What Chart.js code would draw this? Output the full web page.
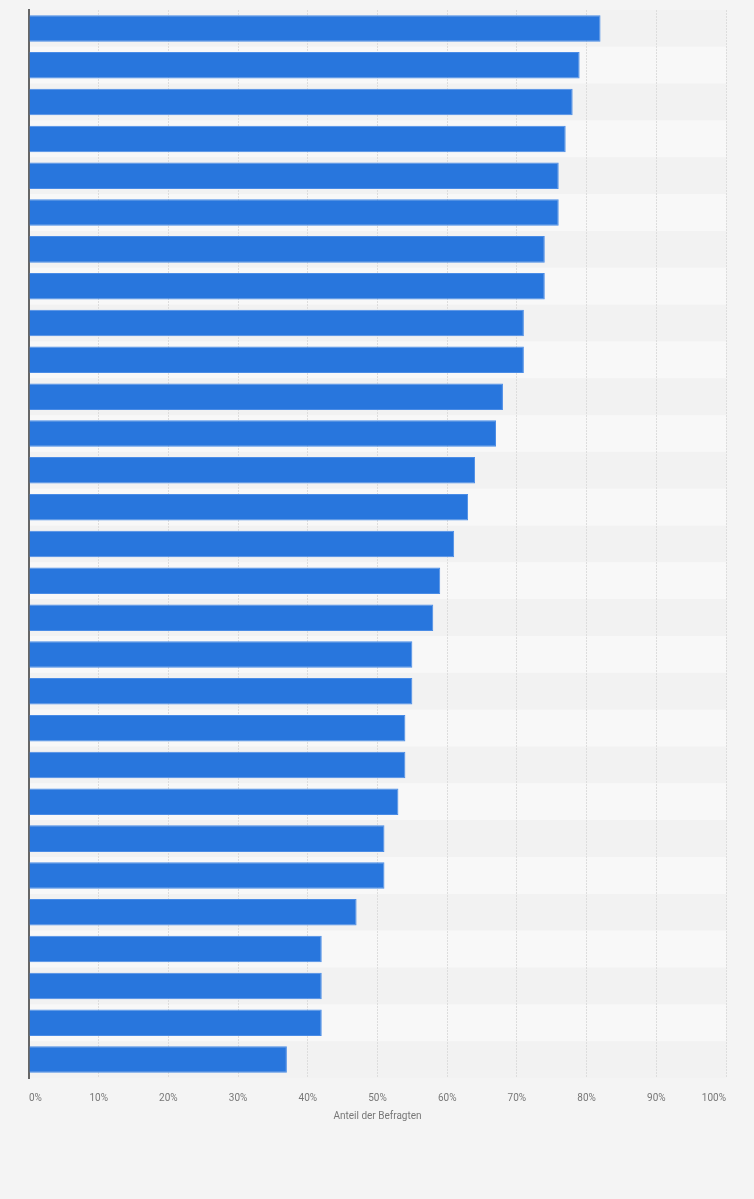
<!DOCTYPE html>
<html>
<head>
<meta charset="utf-8">
<script src="https://cdn.jsdelivr.net/npm/chart.js@4.4.1/dist/chart.umd.min.js"></script>
<style>
    html, body { margin: 0; padding: 0; background: #f4f4f4; }
    #wrap { width: 754px; height: 1199px; position: relative; }
</style>
</head>
<body>
<div id="wrap"><canvas id="grafica"></canvas></div>
<script>
(function(){

    // categorías sin etiqueta visible en el gráfico
    const categorias = ['1','2','3','4','5','6','7','8','9','10','11','12','13','14','15',
                        '16','17','18','19','20','21','22','23','24','25','26','27','28','29'];
    const valores = [82, 79, 78, 77, 76, 76, 74, 74, 71, 71, 68, 67, 64, 63, 61,
                     59, 58, 55, 55, 54, 54, 53, 51, 51, 47, 42, 42, 42, 37];
    const ticksX = [0, 10, 20, 30, 40, 50, 60, 70, 80, 90, 100];
    const tituloX = 'Anteil der Befragten';

    // franjas alternas detrás de la rejilla y las barras
    const franjas = {
        id: 'franjas',
        beforeDraw(chart) {
            const { ctx, chartArea, scales } = chart;
            const y = scales.y;
            const paso = y.getPixelForValue(1) - y.getPixelForValue(0);
            ctx.save();
            categorias.forEach((c, i) => {
                const centro = y.getPixelForValue(i);
                ctx.fillStyle = i % 2 === 0 ? '#f2f2f2' : '#f8f8f8';
                ctx.fillRect(chartArea.left, centro - paso / 2, chartArea.right - chartArea.left, paso);
            });
            ctx.restore();
        }
    };

    const ctx = document.getElementById('grafica');

    const data = {
        labels: categorias,
        datasets: [{
            data: valores,
            backgroundColor: '#2876dd',
            borderColor: '#4a8ce6',
            borderWidth: 1,
            borderSkipped: 'left',
            barPercentage: 0.72,
            categoryPercentage: 1
        }]
    };

    const config = {
        type: 'bar',
        data: data,
        options: {
            indexAxis: 'y',
            animation: false,
            responsive: true,
            maintainAspectRatio: false,
            layout: {
                padding: { left: 29, right: 28, top: 10, bottom: 77 }
            },
            scales: {
                x: {
                    min: 0,
                    max: 100,
                    afterBuildTicks(axis) {
                        axis.ticks = ticksX.map(v => ({ value: v }));
                    },
                    grid: {
                        color: '#dddddd',
                        lineWidth: 1,
                        drawTicks: false
                    },
                    border: { display: false, dash: [2, 1] },
                    ticks: {
                        align: 'inner',
                        padding: 14,
                        color: '#777',
                        font: { family: 'Roboto', size: 10 },
                        callback: v => v + '%'
                    },
                    title: {
                        display: true,
                        text: tituloX,
                        color: '#777',
                        font: { family: 'Roboto', size: 10 },
                        padding: { top: -8, bottom: 0 }
                    }
                },
                y: {
                    offset: true,
                    grid: { display: false, drawTicks: false },
                    border: { display: true, color: '#666', width: 2 },
                    ticks: { display: false }
                }
            },
            plugins: {
                legend: { display: false },
                tooltip: { enabled: false }
            }
        },
        plugins: [franjas]
    };

    new Chart(ctx, config);

})();
</script>
</body>
</html>
